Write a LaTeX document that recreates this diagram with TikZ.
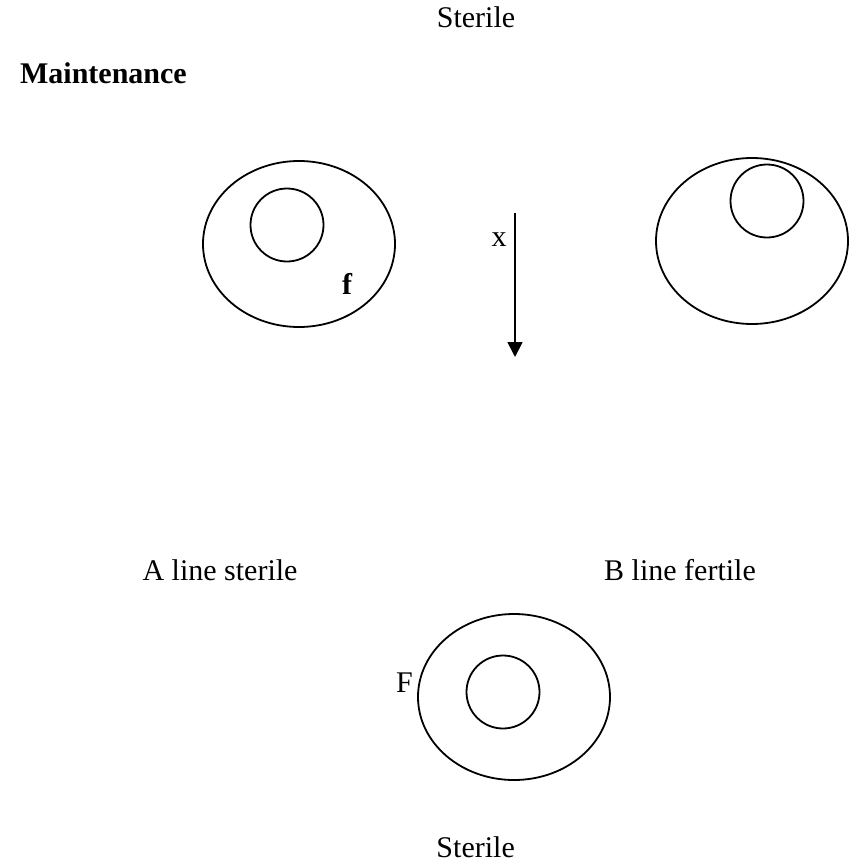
\documentclass[tikz,border=0pt]{standalone}
\usepackage{fontspec}
\setmainfont{Liberation Serif}
\usetikzlibrary{arrows.meta, positioning, shapes.geometric}

\begin{document}
\begin{tikzpicture}[
    x=1pt, y=-1pt,
    % Cell: ellipse with border
    cell/.style={
        ellipse, draw=black, line width=1.8pt,
        inner sep=0pt, minimum width=192pt, minimum height=166pt
    },
    % Nucleus: small circle inside a cell
    nucleus/.style={
        circle, draw=black, line width=1.8pt,
        inner sep=0pt, minimum size=73pt
    },
    % Plain text
    txt/.style={
        font=\fontsize{30}{36}\selectfont, inner sep=0pt
    },
    % Bold text
    btxt/.style={
        font=\fontsize{30}{36}\selectfont\bfseries, inner sep=0pt
    },
    % Cross arrow
    cross/.style={line width=1.8pt, -{Triangle[width=15pt, length=15pt]}},
]

\useasboundingbox (0,0) rectangle (848,864);

% ============================================================
% HEADINGS
% ============================================================
\node[txt,  anchor=base]      (top-sterile) at (476, 28) {Sterile};
\node[btxt, anchor=base east] (maint)       at (187, 84) {Maintenance};

% ============================================================
% A LINE (left) and B LINE (right)
% ============================================================
\node[cell]    (A-cell) at (299, 244) {};
\node[nucleus] (A-nuc)  at (287, 225) {};
\node[btxt]    (A-f)    at (347, 284) {f};

\node[cell]    (B-cell) at (752, 241) {};
\node[nucleus] (B-nuc)  at (767, 201) {};

% Cross arrow
\coordinate (x-from) at (515, 213);
\coordinate (x-to)   at (515, 357);
\draw[cross] (x-from) -- (x-to);
\node[txt] (x-lbl) at (499, 240) {x};

\node[txt, anchor=base] (A-lbl) at (220, 580) {A line sterile};
\node[txt, anchor=base] (B-lbl) at (680, 580) {B line fertile};

% ============================================================
% OFFSPRING
% ============================================================
\node[cell]    (C-cell) at (514, 697) {};
\node[nucleus] (C-nuc)  at (503, 692) {};
\node[txt, anchor=base east] (C-F) at (413, 692) {F};

\node[txt, anchor=base east] (bot-sterile) at (515, 857) {Sterile};

\end{tikzpicture}
\end{document}
